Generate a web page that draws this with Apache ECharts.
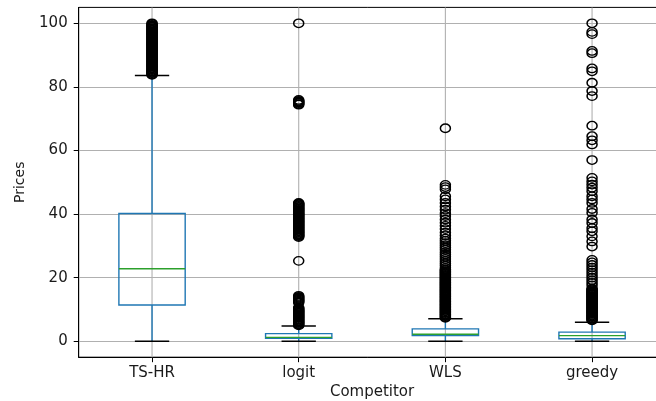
<!DOCTYPE html>
<html>
<head>
<meta charset="utf-8">
<script src="https://cdn.jsdelivr.net/npm/echarts@6/dist/echarts.min.js"></script>
<style>
  html, body { margin: 0; padding: 0; background: #fff; }
  #chart { width: 656px; height: 401px; }
</style>
</head>
<body>
<div id="chart"></div>
<script>
// Competitor names on the x axis
const categories = ['TS-HR', 'logit', 'WLS', 'greedy'];

// Box statistics per competitor
const lowerWhisker = [0, 0, 0, 0];
const q1 = [11.4, 0.95, 1.8, 0.8];
const median = [22.8, 1.25, 2.2, 1.8];
const q3 = [40.2, 2.4, 3.9, 2.9];
const upperWhisker = [83.6, 4.8, 7.1, 6.0];

// Outlying prices per competitor
const tsHrOutliers = [
  83.8, 84.0, 84.3, 84.5, 84.8, 85.0, 85.3, 85.5, 85.8, 86.0, 86.3, 86.5, 86.8,
  87.0, 87.3, 87.5, 87.8, 88.0, 88.3, 88.5, 88.8, 89.0, 89.3, 89.5, 89.8, 90.0,
  90.3, 90.5, 90.8, 91.0, 91.3, 91.5, 91.8, 92.0, 92.3, 92.5, 92.8, 93.0, 93.3,
  93.5, 93.8, 94.0, 94.3, 94.5, 94.8, 95.0, 95.3, 95.5, 95.8, 96.0, 96.3, 96.5,
  96.8, 97.0, 97.3, 97.5, 97.8, 98.0, 98.3, 98.5, 98.8, 99.0, 99.3, 99.5, 99.8,
  100.0
];
const logitOutliers = [
  100.0,
  75.9, 75.6, 75.4, 75.1, 74.9, 74.6, 74.4,
  43.5, 43.3, 43.1, 42.8, 42.6, 42.3, 42.1, 41.8, 41.6, 41.3, 41.1, 40.8, 40.6,
  40.3, 40.1, 39.8, 39.6, 39.3, 39.1, 38.8, 38.6, 38.3, 38.1, 37.8, 37.6, 37.3,
  37.1, 36.8, 36.6, 36.3, 36.1, 35.8, 35.6, 35.3, 35.1, 34.8, 34.6, 34.3, 34.1,
  33.8, 33.6, 33.3, 33.1, 32.8,
  25.3,
  14.3, 14.0, 13.7, 13.4, 13.1, 12.8, 12.5, 12.2,
  10.6, 10.3, 10.0, 9.8, 9.5, 9.3, 9.0, 8.8, 8.5, 8.3, 8.0, 7.8, 7.5, 7.3, 7.0,
  6.8, 6.5, 6.3, 6.0, 5.8, 5.5, 5.3, 5.0
];
const wlsOutliers = [
  67.0,
  49.2, 48.5, 47.8,
  45.6, 44.6, 43.5, 42.4, 41.4, 40.3, 39.4, 38.3, 37.3, 36.3, 35.3, 34.2, 33.3,
  32.3, 31.6, 30.9, 30.2, 29.5, 28.8, 28.0, 27.3, 26.6, 25.9, 25.2, 24.5, 23.8,
  23.1,
  22.6, 22.4, 22.1, 21.9, 21.6, 21.4, 21.1, 20.9, 20.6, 20.4, 20.1, 19.9, 19.6,
  19.4, 19.1, 18.9, 18.6, 18.4, 18.1, 17.9, 17.6, 17.4, 17.1, 16.9, 16.6, 16.4,
  16.1, 15.9, 15.6, 15.4, 15.1, 14.9, 14.6, 14.4, 14.1, 13.9, 13.6, 13.4, 13.1,
  12.9, 12.6, 12.4, 12.1, 11.9, 11.6, 11.4, 11.1, 10.9, 10.6, 10.4, 10.1, 9.9,
  9.6, 9.4, 9.1, 8.9, 8.6, 8.4, 8.1, 7.9, 7.6, 7.4
];
const greedyOutliers = [
  100.0, 97.3, 96.6, 91.3, 90.6, 85.8, 84.9, 81.3, 78.7, 77.1, 67.8, 64.5, 63.2,
  61.9, 57.0, 51.4, 50.3, 49.3, 48.3, 47.2, 45.6, 44.6, 43.5, 41.6, 40.4, 38.3,
  37.2, 35.6, 34.6, 33.0, 31.4, 29.8, 25.6, 24.8, 24.0, 23.2, 22.4, 21.6, 20.8,
  20.0, 19.2, 18.4, 17.6,
  16.6, 16.3, 16.1, 15.8, 15.6, 15.3, 15.1, 14.8, 14.6, 14.3, 14.1, 13.8, 13.6,
  13.3, 13.1, 12.8, 12.6, 12.3, 12.1, 11.8, 11.6, 11.3, 11.1, 10.8, 10.6, 10.3,
  10.1, 9.8, 9.6, 9.3, 9.1, 8.8, 8.6, 8.3, 8.1, 7.8, 7.6, 7.3, 7.1, 6.8, 6.6
];
const outlierGroups = [tsHrOutliers, logitOutliers, wlsOutliers, greedyOutliers];

// Y tick labels
const yTicks = [0, 20, 40, 60, 80, 100];

const FONT = 'DejaVu Sans';
const TEXT = '#1a1a1a';
const BOX_BLUE = '#1f77b4';
const MEDIAN_GREEN = '#2ca02c';
const GRID_GRAY = '#b0b0b0';

const boxData = categories.map((c, i) =>
  [i, lowerWhisker[i], q1[i], median[i], q3[i], upperWhisker[i]]);

const outlierData = [];
outlierGroups.forEach((vals, i) => vals.forEach(v => outlierData.push([i, v])));

const chart = echarts.init(document.getElementById('chart'), null, { renderer: 'canvas' });

chart.setOption({
  animation: false,
  backgroundColor: '#fff',
  grid: {
    left: 78.7, top: 7.4, width: 586.7, height: 349.8,
    outerBoundsMode: 'none',
    containLabel: false,
    show: true, borderColor: '#000', borderWidth: 1, backgroundColor: 'transparent'
  },
  xAxis: {
    type: 'category',
    data: categories,
    boundaryGap: true,
    name: 'Competitor',
    nameLocation: 'middle',
    nameGap: 24,
    nameTextStyle: { fontFamily: FONT, fontSize: 15, color: TEXT },
    axisLine: { show: true, onZero: false, lineStyle: { color: '#000', width: 1 } },
    axisTick: { show: true, alignWithLabel: true, length: 5, lineStyle: { color: '#000', width: 1 } },
    axisLabel: { fontFamily: FONT, fontSize: 15, color: TEXT, margin: 8 },
    splitLine: { show: false }
  },
  yAxis: {
    type: 'value',
    min: -5,
    max: 105,
    name: 'Prices',
    nameLocation: 'middle',
    nameGap: 51,
    nameTextStyle: { fontFamily: FONT, fontSize: 14, color: TEXT },
    axisLine: { show: true, onZero: false, lineStyle: { color: '#000', width: 1 } },
    axisTick: { show: true, length: 5, customValues: yTicks, lineStyle: { color: '#000', width: 1 } },
    axisLabel: { fontFamily: FONT, fontSize: 15, color: TEXT, margin: 11, customValues: yTicks },
    splitLine: { show: true, lineStyle: { color: GRID_GRAY, width: 1.1 } }
  },
  series: [
    {
      // vertical grid lines through each competitor
      type: 'custom',
      z: 1,
      silent: true,
      data: categories.map((c, i) => [i, 0]),
      encode: { x: 0, y: 1 },
      renderItem(params, api) {
        const x = api.coord([api.value(0), 0])[0];
        const cs = params.coordSys;
        return {
          type: 'line',
          shape: { x1: x, y1: cs.y, x2: x, y2: cs.y + cs.height },
          style: { stroke: GRID_GRAY, lineWidth: 1.1 }
        };
      }
    },
    {
      // boxes, whiskers, caps and medians
      type: 'custom',
      z: 3,
      silent: true,
      data: boxData,
      encode: { x: 0, y: [1, 2, 3, 4, 5] },
      renderItem(params, api) {
        const i = api.value(0);
        const band = api.size([1, 0])[0];
        const hw = band * 0.226;
        const cw = band * 0.117;
        const pt = v => api.coord([i, v]);
        const [cx, yLo] = pt(api.value(1));
        const yQ1 = pt(api.value(2))[1];
        const yMed = pt(api.value(3))[1];
        const yQ3 = pt(api.value(4))[1];
        const yHi = pt(api.value(5))[1];
        const line = (x1, y1, x2, y2, color) => ({
          type: 'line',
          shape: { x1, y1, x2, y2 },
          style: { stroke: color, lineWidth: 1.4 }
        });
        return {
          type: 'group',
          children: [
            line(cx, yQ1, cx, yLo, BOX_BLUE),
            line(cx, yQ3, cx, yHi, BOX_BLUE),
            line(cx - cw, yLo, cx + cw, yLo, '#000'),
            line(cx - cw, yHi, cx + cw, yHi, '#000'),
            {
              type: 'rect',
              shape: { x: cx - hw, y: yQ3, width: 2 * hw, height: yQ1 - yQ3 },
              style: { fill: 'none', stroke: BOX_BLUE, lineWidth: 1.4 }
            },
            line(cx - hw, yMed, cx + hw, yMed, MEDIAN_GREEN)
          ]
        };
      }
    },
    {
      // outlying prices
      type: 'scatter',
      z: 4,
      silent: true,
      data: outlierData,
      symbol: 'circle',
      symbolSize: [10, 8.5],
      itemStyle: { color: 'rgba(0,0,0,0)', borderColor: '#000', borderWidth: 1.4, opacity: 1 }
    }
  ]
});
</script>
</body>
</html>
